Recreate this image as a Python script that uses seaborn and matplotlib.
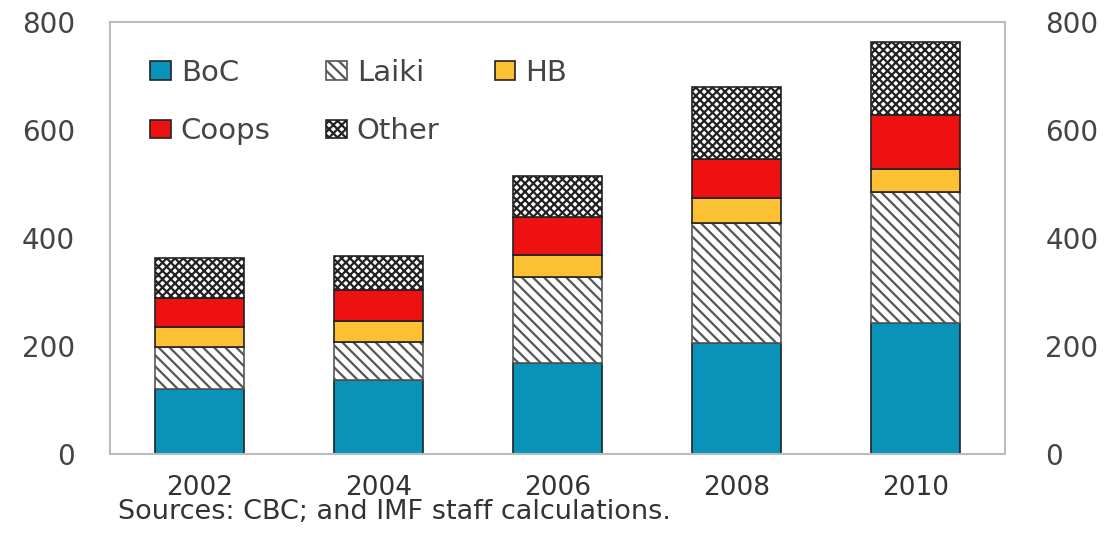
import numpy as np
import pandas as pd
import seaborn as sb
import matplotlib
matplotlib.use("Agg")
import matplotlib.pyplot as plt
from matplotlib.patches import Patch

# data (segment sizes, stacked bottom to top)
years = ["2002", "2004", "2006", "2008", "2010"]
boc = [120, 137, 169, 206, 243]
laiki = [78, 70, 159, 222, 242]
hb = [37, 39, 41, 46, 43]
coops = [54, 58, 70, 72, 100]
other = [74, 63, 76, 134, 135]
yticks = [0, 200, 400, 600, 800]
source_note = "Sources: CBC; and IMF staff calculations."

sb.set_theme(style="white")
plt.rcParams['font.family'] = ['DejaVu Sans']
plt.rcParams['hatch.linewidth'] = 1.6

fig = plt.figure(figsize=(11.13, 5.52), dpi=100)
ax = fig.add_axes([0.0988, 0.1775, 0.8042, 0.7825])

# style per segment: name, values, face, hatch, hatch colour
segments = [
    ("BoC", boc, "#0993b9", None, "#222222"),
    ("Laiki", laiki, "white", "\\\\\\", "#555555"),
    ("HB", hb, "#fbc132", None, "#222222"),
    ("Coops", coops, "#ee1111", None, "#222222"),
    ("Other", other, "white", "xxxx", "#222222"),
]

bottom = np.zeros(len(years))
handles = {}
for name, vals, face, hatch, hcol in segments:
    df = pd.DataFrame({"year": years, "val": vals})
    sb.barplot(data=df, x="year", y="val", ax=ax, color=face, saturation=1,
               width=0.5, bottom=bottom, edgecolor="#222222", linewidth=1.2)
    for p in ax.patches[-len(years):]:
        p.set_facecolor(face)
        if hatch:
            p.set_hatch(hatch)
            p.set_edgecolor(hcol)
    handles[name] = Patch(facecolor=face, edgecolor=hcol, hatch=hatch, linewidth=1.2)
    bottom = bottom + np.array(vals)

ax.set_xlim(-0.5, 4.5)
ax.set_ylim(0, 800)
ax.set_yticks(yticks)
ax.set_xlabel("")
ax.set_ylabel("")
for s in ax.spines.values():
    s.set_color("#bbbbbb")
    s.set_linewidth(1.5)
ax.tick_params(axis="y", length=0, pad=25, labelsize=20, labelcolor="#444444")
ax.tick_params(axis="x", length=0, pad=15, labelsize=19, labelcolor="#333333")

ax2 = ax.twinx()
ax2.set_ylim(0, 800)
ax2.set_yticks(yticks)
ax2.tick_params(axis="y", length=0, pad=29, labelsize=20, labelcolor="#444444")
for s in ax2.spines.values():
    s.set_visible(False)
ax2.grid(False)

order = ["BoC", "Coops", "Laiki", "Other", "HB"]
ax.legend([handles[n] for n in order], order, ncol=3, frameon=False,
          loc="upper left", bbox_to_anchor=(0.045, 0.915), fontsize=21,
          borderpad=0, borderaxespad=0,
          handlelength=0.7, handleheight=0.6, handletextpad=0.35,
          columnspacing=1.9, labelspacing=1.05, labelcolor="#444444")

fig.text(0.106, 0.072, source_note, fontsize=19.5, color="#333333", va="center")

fig.savefig("out.png", dpi=100)
